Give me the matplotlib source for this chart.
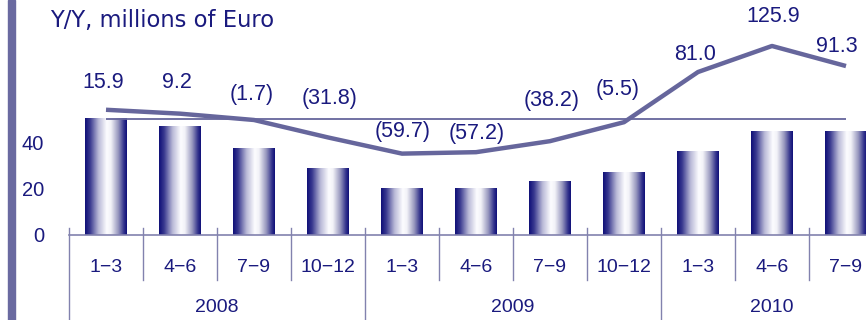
import numpy as np
import matplotlib
matplotlib.use("Agg")
import matplotlib.pyplot as plt
from matplotlib.colors import LinearSegmentedColormap
import matplotlib.transforms as mtransforms

# Quarterly figures
quarters = ["1−3", "4−6", "7−9", "10−12",
            "1−3", "4−6", "7−9", "10−12",
            "1−3", "4−6", "7−9"]
years = ["2008", "2009", "2010"]
year_spans = [4, 4, 3]
bar_values = [50.0, 46.5, 37.0, 28.8, 20.2, 20.2, 23.2, 26.7, 36.1, 44.7, 44.7]
yoy_values = [15.9, 9.2, -1.7, -31.8, -59.7, -57.2, -38.2, -5.5, 81.0, 125.9, 91.3]
yoy_labels = ["15.9", "9.2", "(1.7)", "(31.8)", "(59.7)", "(57.2)",
              "(38.2)", "(5.5)", "81.0", "125.9", "91.3"]
y_ticks = [0, 20, 40]

# Label placement (pixel offsets from each line point)
label_dx = [-2.5, -3, -2, 1.5, 1, 1, 2, -6, -3, 1, -9]
label_dy = [27, 31, 25, 39, 22, 19, 41, 33, 18, 29, 20]

W, H = 866, 320
navy = "#1a1a7e"
line_col = "#66669c"
axis_col = "#8282ae"

fig = plt.figure(figsize=(W / 100, H / 100), dpi=100)
fig.patch.set_facecolor("white")

ax_left, ax_w = 69, 814          # axes spans categories -0.5..10.5
ax_bottom, ax_h = 85, 235        # zero line at 235 px from top
px_per_unit = 2.325
ax = fig.add_axes([ax_left / W, ax_bottom / H, ax_w / W, ax_h / H])
ax.set_xlim(-0.5, 10.5)
ax.set_ylim(0, ax_h / px_per_unit)
ax.patch.set_alpha(0)

for s in ["top", "right", "left"]:
    ax.spines[s].set_visible(False)
ax.spines["bottom"].set_color(axis_col)
ax.spines["bottom"].set_linewidth(1.2)

x = np.arange(len(bar_values))
bar_w = 0.56
bars = ax.bar(x, bar_values, width=bar_w, color="none", edgecolor="none", zorder=2)

# Cylinder-style shading for each bar
cmap = LinearSegmentedColormap.from_list("cyl", [
    (0.0, (0.06, 0.06, 0.47)),
    (0.12, (0.22, 0.22, 0.56)),
    (0.32, (0.72, 0.72, 0.84)),
    (0.52, (0.99, 0.99, 1.0)),
    (0.62, (0.95, 0.95, 0.97)),
    (0.80, (0.58, 0.58, 0.74)),
    (0.93, (0.20, 0.20, 0.55)),
    (1.0, (0.06, 0.06, 0.47)),
])
grad = np.linspace(0, 1, 256).reshape(1, -1)
for b in bars:
    x0, y0 = b.get_x(), b.get_y()
    ax.imshow(grad, cmap=cmap, aspect="auto", interpolation="bilinear",
              extent=[x0, x0 + b.get_width(), y0, y0 + b.get_height()], zorder=2)
ax.set_xlim(-0.5, 10.5)
ax.set_ylim(0, ax_h / px_per_unit)

ax.set_yticks(y_ticks)
ax.set_yticklabels([str(t) for t in y_ticks])
ax.tick_params(axis="y", length=0, pad=18, labelsize=14.5, labelcolor=navy)
for lab in ax.get_yticklabels():
    lab.set_fontfamily("Liberation Sans")
ax.set_xticks([])

# Category separators and labels below the axis
trans = mtransforms.blended_transform_factory(ax.transData, ax.transAxes)
bounds = np.cumsum([0] + year_spans)
for k in range(len(quarters) + 1):
    xs = k - 0.5
    long = k in bounds
    y_end = -ax_bottom / ax_h if long else -45 / ax_h
    ax.plot([xs, xs], [7 / ax_h, y_end], color=axis_col, lw=1.0,
            transform=trans, clip_on=False, zorder=1)
for i, q in enumerate(quarters):
    ax.text(i, -33 / ax_h, q, transform=trans, ha="center", va="center",
            fontsize=14, color=navy, family="Liberation Sans")
for j, yr in enumerate(years):
    xc = (bounds[j] + bounds[j + 1] - 1) / 2
    ax.text(xc, -73 / ax_h, yr, transform=trans, ha="center", va="center",
            fontsize=14, color=navy, family="Liberation Sans")

# Year-over-year line on a secondary scale
ax2 = ax.twinx()
yoy_px = 0.58
zero_px = 116
ax2.set_ylim(-zero_px / yoy_px, (ax_h - zero_px) / yoy_px)
ax2.set_xlim(-0.5, 10.5)
ax2.axis("off")
ax2.hlines(0, x[0], x[-1], color=line_col, lw=1.3, zorder=3)
ax2.plot(x, yoy_values, color=line_col, lw=3.2, solid_capstyle="butt",
         solid_joinstyle="round", zorder=4)
for i, (v, t) in enumerate(zip(yoy_values, yoy_labels)):
    ax2.annotate(t, (x[i], v), xytext=(label_dx[i], label_dy[i]),
                 textcoords="offset pixels", ha="center", va="center",
                 fontsize=15.5, color=navy, family="Liberation Sans",
                 annotation_clip=False)

# Title and left accent stripe
fig.text(50 / W, 1 - 20 / H, "Y/Y, millions of Euro", ha="left", va="center",
         fontsize=16.3, color=navy, family="DejaVu Sans")
fig.patches.append(plt.Rectangle((8 / W, 0), 6.5 / W, 1, transform=fig.transFigure,
                                 color="#6a6aa0", zorder=0))

fig.savefig("out.png", dpi=100)
